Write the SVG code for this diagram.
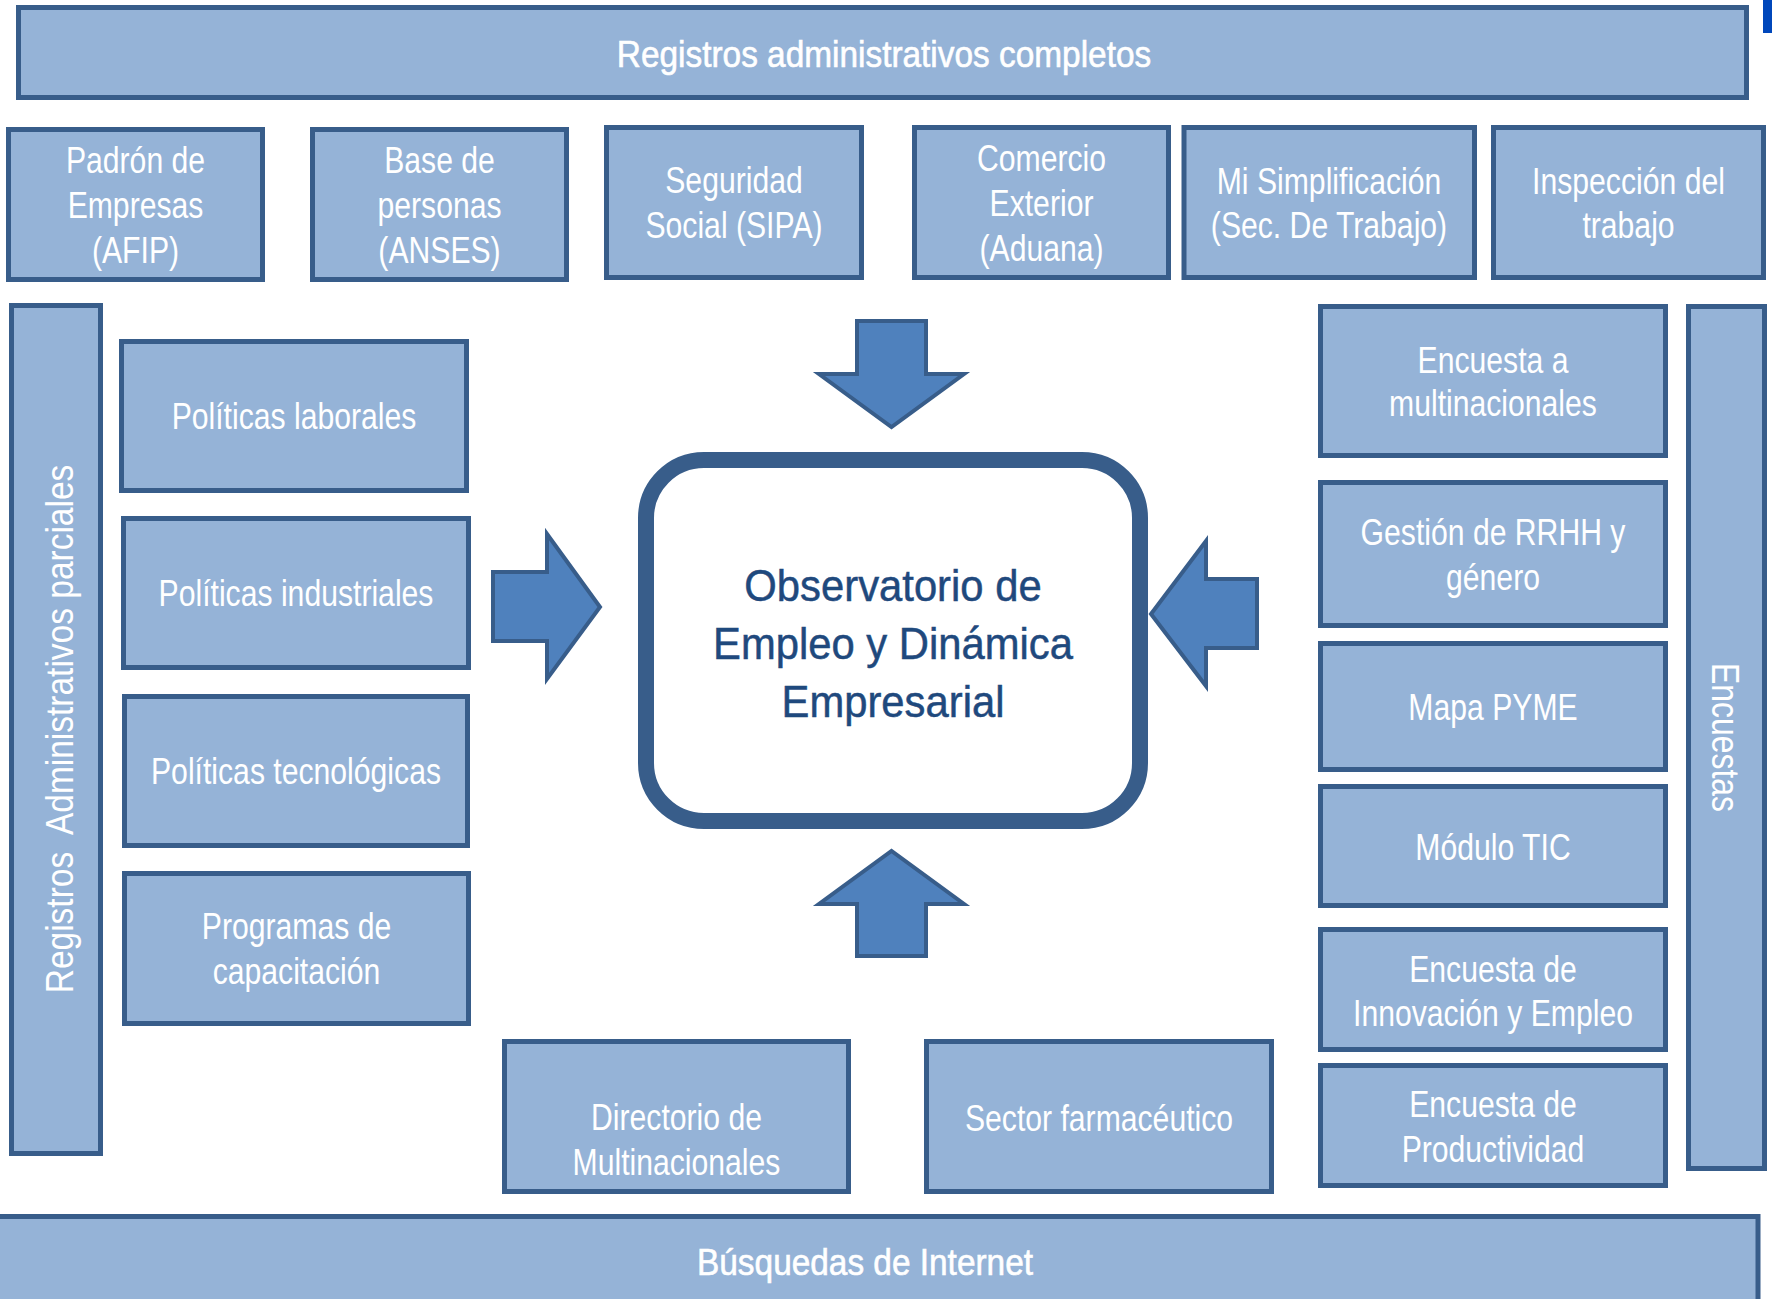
<svg xmlns="http://www.w3.org/2000/svg" width="1772" height="1299" viewBox="0 0 1772 1299">
<defs>
<style>
.box{fill:#95B3D7;stroke:#385D8A;stroke-width:5}
.arr{fill:#4F81BD;stroke:#385D8A;stroke-width:4}
.t{font-family:"Liberation Sans",Arial,sans-serif;font-size:37px;fill:#FFFFFF;text-anchor:middle}
.b{font-family:"Liberation Sans",Arial,sans-serif;font-size:36.5px;fill:#FFFFFF;stroke:#FFFFFF;stroke-width:0.6;text-anchor:middle}
.v{font-family:"Liberation Sans",Arial,sans-serif;font-size:38.5px;fill:#FFFFFF;text-anchor:middle}
.c{font-family:"Liberation Sans",Arial,sans-serif;font-size:44px;fill:#1F497D;stroke:#1F497D;stroke-width:0.5;text-anchor:middle}
</style>
</defs>
<rect width="1772" height="1299" fill="#FFFFFF"/>
<rect x="1763" y="0" width="9" height="33" fill="#0047BB"/>
<g id="banner-top"><rect class="box" x="18.5" y="7.5" width="1728" height="90"/><text class="b" transform="translate(884,67) scale(0.915,1)">Registros administrativos completos</text></g>
<g id="padron"><rect class="box" x="8.5" y="129.5" width="254" height="150"/><text class="t" transform="translate(135.5,173) scale(0.815,1)">Padrón de</text><text class="t" transform="translate(135.5,218) scale(0.815,1)">Empresas</text><text class="t" transform="translate(135.5,263) scale(0.815,1)">(AFIP)</text></g>
<g id="base"><rect class="box" x="312.5" y="129.5" width="254" height="150"/><text class="t" transform="translate(439.5,173) scale(0.815,1)">Base de</text><text class="t" transform="translate(439.5,218) scale(0.815,1)">personas</text><text class="t" transform="translate(439.5,263) scale(0.815,1)">(ANSES)</text></g>
<g id="seguridad"><rect class="box" x="606.5" y="127.5" width="255" height="150"/><text class="t" transform="translate(734,193) scale(0.815,1)">Seguridad</text><text class="t" transform="translate(734,238) scale(0.815,1)">Social (SIPA)</text></g>
<g id="comercio"><rect class="box" x="914.5" y="127.5" width="254" height="150"/><text class="t" transform="translate(1041.5,171) scale(0.815,1)">Comercio</text><text class="t" transform="translate(1041.5,216) scale(0.815,1)">Exterior</text><text class="t" transform="translate(1041.5,261) scale(0.815,1)">(Aduana)</text></g>
<g id="simplificacion"><rect class="box" x="1184" y="127.5" width="290.5" height="150"/><text class="t" transform="translate(1329,194) scale(0.815,1)">Mi Simplificación</text><text class="t" transform="translate(1329,238) scale(0.815,1)">(Sec. De Trabajo)</text></g>
<g id="inspeccion"><rect class="box" x="1493.5" y="127.5" width="270" height="150"/><text class="t" transform="translate(1628.5,194) scale(0.815,1)">Inspección del</text><text class="t" transform="translate(1628.5,238) scale(0.815,1)">trabajo</text></g>
<g id="registros-parciales"><rect class="box" x="11.5" y="305.5" width="89" height="848"/><text class="v" transform="translate(73,729) rotate(-90) scale(0.87,1)" style="white-space:pre" xml:space="preserve">Registros  Administrativos parciales</text></g>
<g id="pol-laborales"><rect class="box" x="121.5" y="341.5" width="345" height="149"/><text class="t" transform="translate(294,429) scale(0.815,1)">Políticas laborales</text></g>
<g id="pol-industriales"><rect class="box" x="123.5" y="518.5" width="345" height="149"/><text class="t" transform="translate(296,606) scale(0.815,1)">Políticas industriales</text></g>
<g id="pol-tecnologicas"><rect class="box" x="124.5" y="696.5" width="343" height="149"/><text class="t" transform="translate(296,784) scale(0.815,1)">Políticas tecnológicas</text></g>
<g id="programas"><rect class="box" x="124.5" y="873.5" width="344" height="150"/><text class="t" transform="translate(296.5,939) scale(0.815,1)">Programas de</text><text class="t" transform="translate(296.5,984) scale(0.815,1)">capacitación</text></g>
<g id="observatorio"><rect x="646" y="460" width="494" height="361" rx="58" fill="#FFFFFF" stroke="#385D8A" stroke-width="16"/><text class="c" transform="translate(893,600.5) scale(0.95,1)">Observatorio de</text><text class="c" transform="translate(893,659) scale(0.95,1)">Empleo y Dinámica</text><text class="c" transform="translate(893,717) scale(0.95,1)">Empresarial</text></g>
<g id="directorio"><rect class="box" x="504.5" y="1041.5" width="344" height="150"/><text class="t" transform="translate(676.5,1130) scale(0.815,1)">Directorio de</text><text class="t" transform="translate(676.5,1175) scale(0.815,1)">Multinacionales</text></g>
<g id="farmaceutico"><rect class="box" x="926.5" y="1041.5" width="345" height="150"/><text class="t" transform="translate(1099,1131) scale(0.815,1)">Sector farmacéutico</text></g>
<g id="enc-multinacionales"><rect class="box" x="1320.5" y="306.5" width="345" height="149"/><text class="t" transform="translate(1493,373) scale(0.815,1)">Encuesta a</text><text class="t" transform="translate(1493,416) scale(0.815,1)">multinacionales</text></g>
<g id="enc-rrhh"><rect class="box" x="1320.5" y="482.5" width="345" height="143"/><text class="t" transform="translate(1493,545) scale(0.815,1)">Gestión de RRHH y</text><text class="t" transform="translate(1493,590) scale(0.815,1)">género</text></g>
<g id="enc-pyme"><rect class="box" x="1320.5" y="643.5" width="345" height="126"/><text class="t" transform="translate(1493,720) scale(0.815,1)">Mapa PYME</text></g>
<g id="enc-tic"><rect class="box" x="1320.5" y="786.5" width="345" height="119"/><text class="t" transform="translate(1493,860) scale(0.815,1)">Módulo TIC</text></g>
<g id="enc-innovacion"><rect class="box" x="1320.5" y="929.5" width="345" height="120"/><text class="t" transform="translate(1493,982) scale(0.815,1)">Encuesta de</text><text class="t" transform="translate(1493,1026) scale(0.815,1)">Innovación y Empleo</text></g>
<g id="enc-productividad"><rect class="box" x="1320.5" y="1065.5" width="345" height="120"/><text class="t" transform="translate(1493,1117) scale(0.815,1)">Encuesta de</text><text class="t" transform="translate(1493,1162) scale(0.815,1)">Productividad</text></g>
<g id="encuestas"><rect class="box" x="1688.5" y="306.5" width="76" height="862"/><text class="v" transform="translate(1712,737.5) rotate(90) scale(0.83,1)">Encuestas</text></g>
<g id="banner-bottom"><rect class="box" x="-3" y="1216.5" width="1761" height="100"/><text class="b" transform="translate(865,1275) scale(0.915,1)">Búsquedas de Internet</text></g>
<g id="connectors">
<polygon class="arr" points="857,321 926,321 926,374 964,374 891.5,427 819,374 857,374"/>
<polygon class="arr" points="857,956 926,956 926,904 964,904 891.5,851 819,904 857,904"/>
<polygon class="arr" points="1257,579 1206,579 1206,541 1151,614 1206,686 1206,648 1257,648"/>
<polygon class="arr" points="493,572 547,572 547,534 600,607 547,679 547,641 493,641"/>
</g>
</svg>
